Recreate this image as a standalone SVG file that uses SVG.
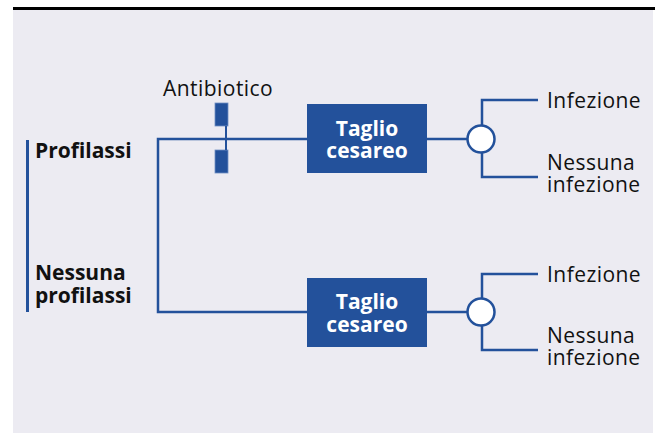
<svg xmlns="http://www.w3.org/2000/svg" width="655" height="433" viewBox="0 0 655 433">
<style>
.lbl{font-family:"Open Sans","Liberation Sans",sans-serif;font-size:21px;letter-spacing:0.45px;fill:#111}
.bold{font-family:"Open Sans","Liberation Sans",sans-serif;font-size:21px;font-weight:bold;fill:#111}
.box{fill:#23519b}
.boxt{font-family:"Open Sans","Liberation Sans",sans-serif;font-size:21px;font-weight:bold;fill:#fff;text-anchor:middle}
.ln{fill:none;stroke:#23519b;stroke-width:2.5}
.chance{fill:#fff;stroke:#23519b;stroke-width:2.5}
</style>
<rect x="13" y="10" width="640" height="423" fill="#ecebf2"/>
<rect x="13" y="7" width="642" height="3" fill="#000"/>
<g id="connectors">
<path class="ln" d="M308 139 H158 V312 H308"/>
<path class="ln" d="M427 139 H467"/>
<path class="ln" d="M427 312 H467"/>
<path class="ln" d="M538 100 H482 V125 M482 153 V177 H538"/>
<path class="ln" d="M538 274 H482 V298 M482 326 V350 H538"/>
</g>
<g id="group-label">
<rect x="26" y="140" width="3" height="172" fill="#23519b"/>
<text class="bold" x="35" y="158">Profilassi</text>
<text class="bold" x="35" y="280">Nessuna</text>
<text class="bold" x="35" y="303">profilassi</text>
</g>
<g id="antibiotico">
<text class="lbl" x="163" y="96">Antibiotico</text>
<rect x="215" y="103" width="13" height="23" fill="#23519b" stroke="#6f8fc4" stroke-width="0.8"/>
<rect x="215" y="150" width="13" height="23" fill="#23519b" stroke="#6f8fc4" stroke-width="0.8"/>
<rect x="225" y="126" width="2" height="24" fill="#23519b"/>
</g>
<g id="box1">
<rect class="box" x="307" y="104" width="120" height="69"/>
<text class="boxt" x="367" y="136">Taglio</text>
<text class="boxt" x="367" y="158">cesareo</text>
</g>
<g id="box2">
<rect class="box" x="307" y="278" width="120" height="69"/>
<text class="boxt" x="367" y="309">Taglio</text>
<text class="boxt" x="367" y="332">cesareo</text>
</g>
<g id="chance1">
<circle class="chance" cx="481" cy="139" r="13.5"/>
</g>
<g id="chance2">
<circle class="chance" cx="481" cy="312" r="13.5"/>
</g>
<g id="outcome1a"><text class="lbl" x="547" y="108">Infezione</text></g>
<g id="outcome1b"><text class="lbl" x="547" y="170">Nessuna</text><text class="lbl" x="547" y="192">infezione</text></g>
<g id="outcome2a"><text class="lbl" x="547" y="282">Infezione</text></g>
<g id="outcome2b"><text class="lbl" x="547" y="343">Nessuna</text><text class="lbl" x="547" y="365">infezione</text></g>
</svg>
